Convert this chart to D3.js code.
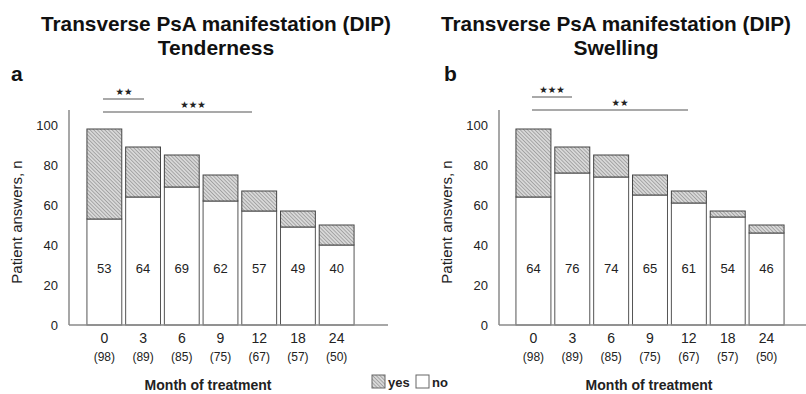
<!DOCTYPE html>
<html>
<head>
<meta charset="utf-8">
<script src="https://cdn.jsdelivr.net/npm/d3@7"></script>
<style>
  body { margin: 0; background: #fff; }
  svg { font-family: "Liberation Sans", Arial, sans-serif; display: block; }
  .title { font-weight: bold; font-size: 21px; fill: #111; }
  .letter { font-weight: bold; font-size: 21px; fill: #111; }
  .tick text { fill: #222; }
</style>
</head>
<body>
<div id="chart"></div>
<script>
var svgWidth = 806;
var svgHeight = 394;

// data
var months = ["0", "3", "6", "9", "12", "18", "24"];
var nLabels = ["(98)", "(89)", "(85)", "(75)", "(67)", "(57)", "(50)"];
var yTicks = [0, 20, 40, 60, 80, 100];

var tenderNo = [53, 64, 69, 62, 57, 49, 40];
var tenderYes = [45, 25, 16, 13, 10, 8, 10];

var swellNo = [64, 76, 74, 65, 61, 54, 46];
var swellYes = [34, 13, 11, 10, 6, 3, 4];

var svg = d3.select("#chart")
  .append("svg")
  .attr("width", svgWidth)
  .attr("height", svgHeight);

// hatch pattern for "yes"
var pat = svg.append("defs").append("pattern")
  .attr("id", "hatch")
  .attr("patternUnits", "userSpaceOnUse")
  .attr("width", 2.6)
  .attr("height", 2.6)
  .attr("patternTransform", "rotate(-45)");
pat.append("rect").attr("width", 2.6).attr("height", 2.6).attr("fill", "#d8d8d8");
pat.append("line")
  .attr("x1", 0).attr("y1", 0).attr("x2", 0).attr("y2", 2.6)
  .attr("stroke", "#777").attr("stroke-width", 1);

var y = d3.scaleLinear().domain([0, 100]).range([325, 125]);

function drawPanel(p) {
  var g = svg.append("g");

  // titles
  g.append("text").attr("class", "title")
    .attr("x", p.titleX).attr("y", 31)
    .attr("text-anchor", "middle")
    .attr("textLength", 350).attr("lengthAdjust", "spacingAndGlyphs")
    .text("Transverse PsA manifestation (DIP)");
  g.append("text").attr("class", "title")
    .attr("x", p.titleX).attr("y", 55)
    .attr("text-anchor", "middle")
    .text(p.subtitle);

  g.append("text").attr("class", "letter")
    .attr("x", p.letterX).attr("y", 81)
    .text(p.letter);

  var x = d3.scaleBand()
    .domain(months)
    .range(p.xRange)
    .paddingInner(0.1)
    .paddingOuter(0.05);

  // y axis
  var yAxis = g.append("g")
    .attr("transform", `translate(${p.axisX}, 0)`)
    .call(d3.axisLeft(y).tickValues(yTicks).tickSize(0).tickPadding(11));
  yAxis.select(".domain").remove();
  yAxis.selectAll("text").attr("font-size", "13px").attr("font-family", "Liberation Sans, Arial, sans-serif");

  g.append("line")
    .attr("x1", p.axisX).attr("x2", p.axisX)
    .attr("y1", 110).attr("y2", y(0))
    .attr("stroke", "#8a8a8a").attr("stroke-width", 1.5);

  // bars: "no" white bottom, "yes" hatched on top
  var rows = months.map(function(m, i) {
    return { m: m, no: p.no[i], yes: p.yes[i], n: nLabels[i] };
  });

  g.selectAll(".noBar")
    .data(rows)
    .enter()
    .append("rect")
    .attr("class", "noBar")
    .attr("x", d => x(d.m))
    .attr("width", x.bandwidth())
    .attr("y", d => y(d.no))
    .attr("height", d => y(0) - y(d.no))
    .attr("fill", "#fff")
    .attr("stroke", "#555")
    .attr("stroke-width", 1);

  g.selectAll(".yesBar")
    .data(rows)
    .enter()
    .append("rect")
    .attr("class", "yesBar")
    .attr("x", d => x(d.m))
    .attr("width", x.bandwidth())
    .attr("y", d => y(d.no + d.yes))
    .attr("height", d => y(d.no) - y(d.no + d.yes))
    .attr("fill", "url(#hatch)")
    .attr("stroke", "#444")
    .attr("stroke-width", 1);

  g.selectAll(".valLabel")
    .data(rows)
    .enter()
    .append("text")
    .attr("class", "valLabel")
    .attr("x", d => x(d.m) + x.bandwidth() / 2)
    .attr("y", 273)
    .attr("text-anchor", "middle")
    .attr("font-size", "13px")
    .attr("fill", "#222")
    .text(d => d.no);

  // x axis
  g.append("line")
    .attr("x1", p.axisX).attr("x2", p.axisEnd)
    .attr("y1", y(0)).attr("y2", y(0))
    .attr("stroke", "#8a8a8a").attr("stroke-width", 1.5);

  var xAxis = g.append("g")
    .attr("transform", `translate(0, ${y(0)})`)
    .call(d3.axisBottom(x).tickSize(0).tickPadding(8));
  xAxis.select(".domain").remove();
  xAxis.selectAll("text").attr("font-size", "14px").attr("font-family", "Liberation Sans, Arial, sans-serif");

  g.selectAll(".nLabel")
    .data(rows)
    .enter()
    .append("text")
    .attr("class", "nLabel")
    .attr("x", d => x(d.m) + x.bandwidth() / 2)
    .attr("y", 361)
    .attr("text-anchor", "middle")
    .attr("font-size", "12px")
    .attr("fill", "#222")
    .text(d => d.n);

  // axis titles
  g.append("text")
    .attr("transform", `translate(${p.yLabelX}, 222) rotate(-90)`)
    .attr("text-anchor", "middle")
    .attr("font-size", "15px")
    .attr("fill", "#222")
    .text("Patient answers, n");

  g.append("text")
    .attr("x", p.xLabelX).attr("y", 390)
    .attr("text-anchor", "middle")
    .attr("font-size", "14px")
    .attr("font-weight", "bold")
    .attr("fill", "#222")
    .text("Month of treatment");

  // significance brackets
  p.sig.forEach(function(s) {
    g.append("line")
      .attr("x1", s.x1).attr("x2", s.x2)
      .attr("y1", s.y).attr("y2", s.y)
      .attr("stroke", "#555").attr("stroke-width", 1.2);
    g.append("text")
      .attr("x", s.tx).attr("y", s.y - 4)
      .attr("text-anchor", "middle")
      .attr("font-family", "DejaVu Sans")
      .attr("font-size", "9.5px")
      .attr("fill", "#222")
      .text(s.stars);
  });
}

drawPanel({
  subtitle: "Tenderness", letter: "a",
  titleX: 216, letterX: 11,
  no: tenderNo, yes: tenderYes,
  xRange: [85, 356], axisX: 69, axisEnd: 388,
  yLabelX: 22, xLabelX: 208,
  sig: [
    { x1: 103, x2: 144, y: 99, tx: 124, stars: "★★" },
    { x1: 103, x2: 252, y: 112, tx: 193, stars: "★★★" }
  ]
});

drawPanel({
  subtitle: "Swelling", letter: "b",
  titleX: 616, letterX: 444,
  no: swellNo, yes: swellYes,
  xRange: [514, 786], axisX: 499, axisEnd: 806,
  yLabelX: 452, xLabelX: 649,
  sig: [
    { x1: 532, x2: 572, y: 97, tx: 552, stars: "★★★" },
    { x1: 532, x2: 688, y: 110, tx: 620, stars: "★★" }
  ]
});

// legend
var legend = svg.append("g");
legend.append("rect")
  .attr("x", 372).attr("y", 375).attr("width", 13).attr("height", 13)
  .attr("fill", "url(#hatch)").attr("stroke", "#666");
legend.append("text")
  .attr("x", 388).attr("y", 387)
  .attr("font-size", "13px").attr("font-weight", "bold").attr("fill", "#222")
  .text("yes");
legend.append("rect")
  .attr("x", 416).attr("y", 375).attr("width", 13).attr("height", 13)
  .attr("fill", "#fff").attr("stroke", "#666");
legend.append("text")
  .attr("x", 432).attr("y", 387)
  .attr("font-size", "13px").attr("font-weight", "bold").attr("fill", "#222")
  .text("no");
</script>
</body>
</html>
